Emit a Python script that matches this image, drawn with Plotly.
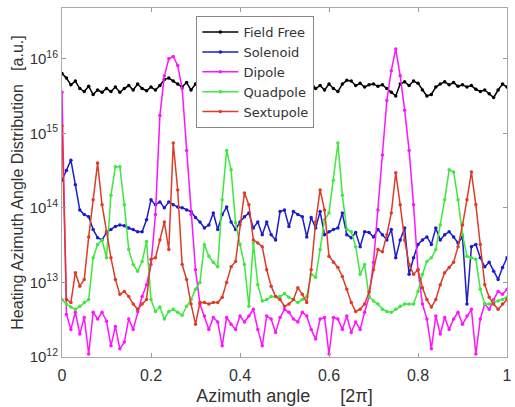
import plotly.graph_objects as go

# azimuth angle in units of 2*pi (101 samples)
angle = [i / 100 for i in range(101)]

# log10 of distribution values
field_free_exp = [
    15.80, 15.74, 15.65, 15.70, 15.60, 15.56, 15.63, 15.52, 15.58, 15.55,
    15.60, 15.56, 15.62, 15.55, 15.60, 15.64, 15.58, 15.66, 15.60, 15.57,
    15.62, 15.58, 15.64, 15.72, 15.74, 15.70, 15.66, 15.62, 15.68, 15.58,
    15.66, 15.62, 15.68, 15.58, 15.64, 15.70, 15.60, 15.66, 15.57, 15.63,
    15.69, 15.61, 15.56, 15.64, 15.70, 15.62, 15.58, 15.66, 15.60, 15.67,
    15.59, 15.63, 15.70, 15.61, 15.57, 15.65, 15.68, 15.60, 15.64, 15.58,
    15.66, 15.60, 15.56, 15.66, 15.71, 15.70, 15.64, 15.67, 15.62, 15.65,
    15.66, 15.63, 15.65, 15.60, 15.55, 15.50, 15.66, 15.69, 15.64, 15.70,
    15.67, 15.58, 15.50, 15.52, 15.62, 15.66, 15.69, 15.65, 15.68, 15.63,
    15.65, 15.62, 15.64, 15.59, 15.56, 15.58, 15.53, 15.48, 15.58, 15.66,
    15.62,
]

solenoid_exp = [
    14.37, 14.50, 14.64, 14.31, 13.97, 13.91, 13.88, 13.71, 13.60, 13.57,
    13.67, 13.71, 13.75, 13.77, 13.76, 13.73, 13.71, 13.68, 13.68, 13.84,
    14.11, 14.04, 14.08, 14.00, 14.08, 14.04, 14.01, 14.00, 13.97, 13.95,
    13.87, 13.81, 13.73, 13.77, 13.93, 13.71, 13.91, 14.01, 13.81, 13.71,
    13.81, 13.88, 13.93, 13.73, 13.81, 13.64, 13.81, 13.64, 13.57, 13.95,
    13.97, 13.75, 13.95, 13.91, 13.88, 13.61, 13.87, 13.73, 13.95, 13.64,
    13.68, 13.71, 13.73, 13.93, 13.64, 13.60, 13.67, 13.48, 13.68, 13.67,
    13.61, 13.71, 13.64, 13.57, 13.71, 13.33, 13.57, 13.73, 13.11, 13.33,
    13.51, 13.57, 13.61, 13.51, 13.73, 13.57, 13.64, 13.68, 13.61, 13.53,
    13.61, 12.71, 13.48, 13.51, 13.33, 13.21, 13.27, 13.15, 13.04, 13.20,
    13.33,
]

dipole_exp = [
    15.55, 12.57, 12.37, 12.60, 12.31, 12.53, 12.04, 12.60, 12.51, 12.60,
    12.48, 12.15, 12.41, 12.11, 12.20, 12.51, 12.37, 12.61, 12.81, 12.97,
    13.24, 13.91, 15.24, 15.77, 16.00, 16.03, 15.91, 15.60, 14.77, 13.91,
    13.17, 12.71, 12.55, 12.37, 12.53, 12.47, 12.15, 12.53, 12.44, 12.37,
    12.55, 12.47, 12.55, 12.64, 12.37, 12.15, 12.55, 12.51, 12.33, 12.53,
    12.64, 12.60, 12.51, 12.47, 12.60, 12.55, 12.37, 12.24, 12.51, 12.53,
    12.04, 12.53, 12.51, 12.37, 12.55, 12.33, 12.47, 12.37, 12.60, 12.81,
    13.27, 13.97, 14.71, 15.44, 15.84, 16.13, 15.77, 15.31, 14.77, 14.04,
    13.17, 12.71, 12.51, 12.11, 12.55, 12.31, 12.53, 12.37, 12.51, 12.60,
    12.44, 12.55, 12.64, 12.04, 12.51, 12.71, 12.64, 12.77, 12.88, 12.84,
    12.91,
]

quadpole_exp = [
    12.77, 12.71, 12.67, 12.64, 12.68, 12.73, 12.77, 13.33, 13.51, 13.57,
    13.33, 14.17, 14.55, 14.55, 14.04, 13.44, 13.24, 13.15, 13.28, 13.55,
    12.77, 12.61, 12.67, 12.51, 12.61, 12.64, 12.60, 12.56, 12.68, 12.77,
    12.91, 13.00, 13.51, 13.35, 13.27, 13.21, 14.11, 14.77, 14.51, 13.80,
    13.51, 13.24, 12.68, 13.53, 12.97, 12.75, 12.77, 12.81, 12.81, 12.81,
    12.85, 12.80, 12.77, 12.73, 12.77, 12.81, 13.11, 13.07, 13.44, 13.84,
    13.93, 14.37, 14.87, 14.17, 13.71, 13.68, 13.48, 13.11, 13.24, 12.81,
    12.75, 12.71, 12.64, 12.61, 12.60, 12.64, 12.68, 12.71, 12.71, 12.71,
    12.88, 13.11, 13.28, 13.33, 13.44, 13.77, 14.11, 14.51, 14.48, 14.11,
    13.64, 13.35, 13.33, 13.31, 12.91, 12.71, 12.71, 12.73, 12.75, 12.77,
    12.80,
]

sextupole_exp = [
    15.10, 12.77, 12.73, 13.13, 12.95, 13.04, 13.61, 14.11, 14.60, 14.04,
    13.68, 13.33, 13.04, 12.84, 12.88, 12.81, 12.71, 12.64, 12.71, 12.77,
    13.31, 13.33, 13.57, 13.81, 13.44, 14.87, 14.24, 13.24, 13.04, 12.71,
    12.44, 12.73, 12.73, 12.71, 12.73, 12.73, 12.80, 13.00, 13.21, 13.28,
    13.77, 14.20, 14.04, 13.57, 13.53, 13.48, 13.17, 12.95, 12.81, 12.77,
    12.68, 12.71, 12.77, 12.93, 12.84, 12.73, 13.17, 13.81, 14.24, 13.97,
    13.35, 13.27, 13.20, 13.08, 12.91, 12.73, 12.61, 12.64, 12.71, 12.87,
    13.17, 13.44, 13.41, 13.64, 13.93, 14.47, 14.04, 13.57, 13.24, 13.11,
    13.17, 12.93, 12.77, 12.67, 12.77, 12.97, 13.13, 13.20, 13.27, 13.48,
    13.77, 14.11, 14.48, 14.04, 13.51, 12.97, 12.80, 12.71, 12.64, 12.71,
    12.77,
]

series_names = ["Field Free", "Solenoid", "Dipole", "Quadpole", "Sextupole"]
series_exps = [field_free_exp, solenoid_exp, dipole_exp, quadpole_exp, sextupole_exp]
series_colors = ["#000000", "#1c1ccc", "#ff14ff", "#3ee83e", "#dc3c28"]

x_tick_vals = [0, 0.2, 0.4, 0.6, 0.8, 1]
x_tick_text = ["0", "0.2", "0.4", "0.6", "0.8", "1"]
y_tick_exps = [12, 13, 14, 15, 16]

fig = go.Figure()
for name, exps, col in zip(series_names, series_exps, series_colors):
    fig.add_trace(go.Scatter(
        x=angle, y=[10 ** e for e in exps], name=name,
        mode="lines+markers",
        line=dict(color=col, width=1.5),
        marker=dict(color=col, size=3.5),
    ))

font_family = "Liberation Sans, Arial, sans-serif"
fig.update_layout(
    width=515, height=407,
    margin=dict(l=62, r=3, t=8, b=50),
    paper_bgcolor="white", plot_bgcolor="white",
    font=dict(family=font_family, color="#333333", size=15),
    showlegend=True,
    legend=dict(
        x=0.302, y=0.977, xanchor="left", yanchor="top",
        bgcolor="white", bordercolor="#888888", borderwidth=1,
        font=dict(size=13, color="#333333", family="DejaVu Sans, Verdana, sans-serif"),
        itemwidth=36, tracegroupgap=0,
    ),
    xaxis=dict(
        range=[0, 1], tickvals=x_tick_vals, ticktext=x_tick_text,
        ticks="inside", ticklen=4, tickcolor="#999999",
        showline=True, linecolor="#aaaaaa", mirror="ticks",
        showgrid=False, zeroline=False,
        tickfont=dict(size=16), ticklabeloverflow="allow", ticklabelstandoff=4,
        title=dict(text="Azimuth angle &nbsp;&nbsp;&nbsp;&nbsp; [2π]", font=dict(size=18, color="#333333"), standoff=6),
    ),
    yaxis=dict(
        type="log", range=[12, 16.68],
        tickvals=[10 ** e for e in y_tick_exps],
        ticktext=["10<sup>%d</sup>" % e for e in y_tick_exps],
        ticks="inside", ticklen=4, tickcolor="#999999",
        showline=True, linecolor="#aaaaaa", mirror="ticks",
        showgrid=False, zeroline=False,
        tickfont=dict(size=15),
        title=dict(text="Heating Azimuth Angle Distribution &nbsp;&nbsp;[a.u.]", font=dict(size=16, color="#333333"), standoff=2),
    ),
)

fig.write_html("out.html")
